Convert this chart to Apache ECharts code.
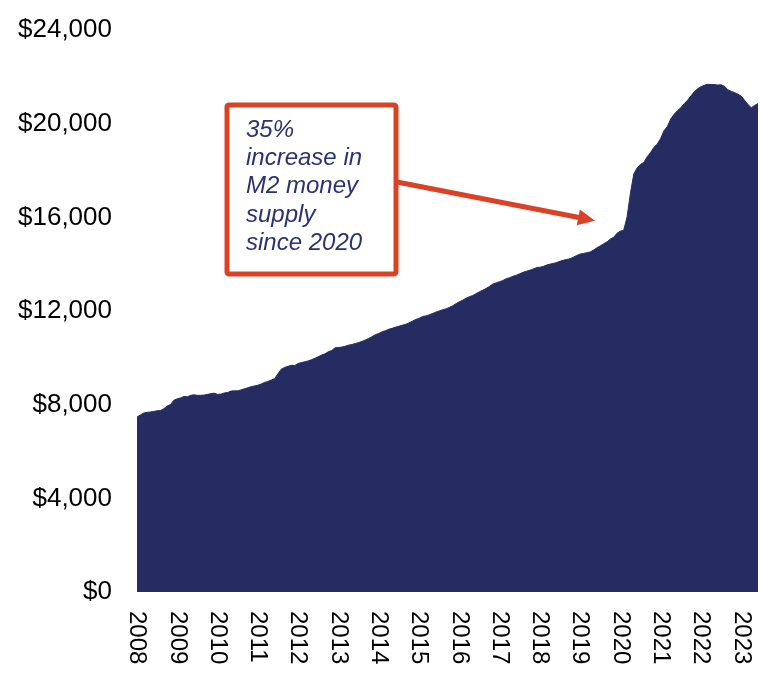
<!DOCTYPE html>
<html>
<head>
<meta charset="utf-8">
<style>
  html, body { margin: 0; padding: 0; background: #ffffff; }
  #chart { width: 761px; height: 677px; }
</style>
<script src="https://cdn.jsdelivr.net/npm/echarts@6/dist/echarts.min.js"></script>
</head>
<body>
<div id="chart"></div>
<script>
// M2 money supply, monthly, billions of US dollars (Jan 2008 - Jun 2023)
const startYear = 2008;
const m2Billions = [
  // 2008
  7470, 7560, 7640, 7670, 7690, 7710, 7740, 7750, 7830, 7940, 8010, 8190,
  // 2009
  8250, 8290, 8350, 8340, 8400, 8420, 8400, 8400, 8410, 8440, 8470, 8490,
  // 2010
  8440, 8450, 8500, 8520, 8580, 8590, 8590, 8630, 8680, 8720, 8770, 8800,
  // 2011
  8830, 8880, 8950, 8990, 9050, 9110, 9320, 9520, 9590, 9640, 9680, 9670,
  // 2012
  9760, 9800, 9830, 9870, 9920, 9980, 10050, 10120, 10170, 10260, 10310, 10430,
  // 2013
  10440, 10460, 10490, 10540, 10570, 10610, 10650, 10700, 10760, 10830, 10900, 10990,
  // 2014
  11040, 11110, 11160, 11220, 11260, 11310, 11350, 11390, 11430, 11490, 11560, 11640,
  // 2015
  11680, 11760, 11790, 11830, 11890, 11950, 12000, 12050, 12090, 12150, 12220, 12310,
  // 2016
  12390, 12460, 12540, 12610, 12660, 12740, 12820, 12890, 12960, 13050, 13150, 13200,
  // 2017
  13250, 13300, 13380, 13420, 13480, 13530, 13590, 13650, 13700, 13740, 13790, 13850,
  // 2018
  13870, 13900, 13960, 14000, 14030, 14070, 14120, 14170, 14200, 14230, 14300, 14370,
  // 2019
  14430, 14460, 14490, 14520, 14600, 14700, 14780, 14870, 14950, 15070, 15150, 15320,
  // 2020
  15410, 15450, 16020, 17040, 17850, 18120, 18260, 18350, 18590, 18770, 18990, 19130,
  // 2021
  19370, 19700, 19880, 20200, 20400, 20550, 20680, 20850, 21000, 21180, 21360, 21490,
  // 2022
  21580, 21640, 21680, 21670, 21670, 21650, 21660, 21600, 21450, 21380, 21330, 21260,
  // 2023
  21180, 21000, 20820, 20680, 20780, 20860
];

// Y axis ticks in billions of dollars
const yMin = 0;
const yMax = 24000;
const yStep = 4000;

// Annotation text
const noteLines = ['35%', 'increase in', 'M2 money', 'supply', 'since 2020'];

// Monthly categories "YYYY-MM"
const months = m2Billions.map((_, i) => {
  const y = startYear + Math.floor(i / 12);
  const m = (i % 12) + 1;
  return y + '-' + (m < 10 ? '0' + m : m);
});

const navy = '#242C62';
const accent = '#DA4226';
const fontFamily = '"Liberation Sans", Arial, sans-serif';

const chart = echarts.init(document.getElementById('chart'), null, { renderer: 'canvas' });

// Arrow geometry for the call-out
const arrowStart = [397, 182];
const arrowTip = [595, 220.7];
const dx = arrowTip[0] - arrowStart[0];
const dy = arrowTip[1] - arrowStart[1];
const len = Math.sqrt(dx * dx + dy * dy);
const ux = dx / len, uy = dy / len;
const headLen = 17, headHalf = 8;
const baseX = arrowTip[0] - headLen * ux, baseY = arrowTip[1] - headLen * uy;

chart.setOption({
  animation: false,
  backgroundColor: '#ffffff',
  grid: { left: 137, right: 3, top: 30, bottom: 85, containLabel: false },
  xAxis: {
    type: 'category',
    data: months,
    boundaryGap: false,
    axisLine: { show: false },
    axisTick: { show: false },
    splitLine: { show: false },
    axisLabel: {
      interval: (index) => index % 12 === 0,
      formatter: (v) => v.slice(0, 4),
      rotate: -90,
      margin: 19,
      color: '#000000',
      fontSize: 24,
      fontFamily: fontFamily
    }
  },
  yAxis: {
    type: 'value',
    min: yMin,
    max: yMax,
    interval: yStep,
    axisLine: { show: false },
    axisTick: { show: false },
    splitLine: { show: false },
    axisLabel: {
      margin: 25,
      color: '#000000',
      fontSize: 26,
      fontFamily: fontFamily,
      formatter: (v) => '$' + v.toLocaleString('en-US')
    }
  },
  series: [{
    type: 'line',
    data: m2Billions,
    showSymbol: false,
    smooth: false,
    lineStyle: { color: navy, width: 1 },
    itemStyle: { color: navy },
    areaStyle: { color: navy, opacity: 1 }
  }],
  graphic: [
    {
      type: 'rect',
      shape: { x: 227, y: 105, width: 169, height: 169, r: 2 },
      style: { fill: '#ffffff', stroke: accent, lineWidth: 5 },
      z: 10
    },
    {
      type: 'text',
      left: 246,
      top: 116,
      style: {
        text: noteLines.join('\n'),
        fill: '#2A3270',
        font: 'italic 24px ' + fontFamily,
        lineHeight: 28.3
      },
      z: 11
    },
    {
      type: 'line',
      shape: { x1: arrowStart[0], y1: arrowStart[1], x2: baseX + 2 * ux, y2: baseY + 2 * uy },
      style: { stroke: accent, lineWidth: 5 },
      z: 10
    },
    {
      type: 'polygon',
      shape: {
        points: [
          arrowTip,
          [baseX - headHalf * uy, baseY + headHalf * ux],
          [baseX + headHalf * uy, baseY - headHalf * ux]
        ]
      },
      style: { fill: accent },
      z: 10
    }
  ]
});
</script>
</body>
</html>
